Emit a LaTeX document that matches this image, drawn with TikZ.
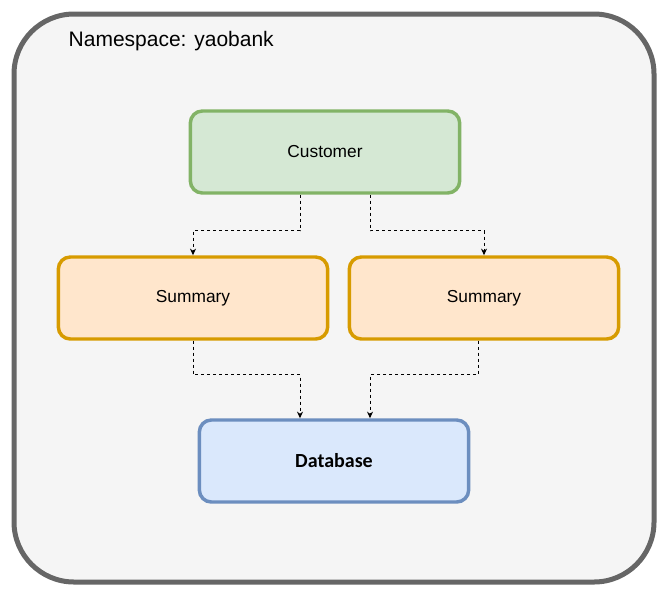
\documentclass[tikz,border=0pt]{standalone}
\usepackage{fontspec}
\setmainfont{Liberation Sans}
\newfontfamily\dbfont{Carlito}
\usetikzlibrary{positioning,calc,arrows.meta}
\tikzset{
	nsbox/.style={draw=black!60, fill=black!4, line width=3.75pt, rounded corners=45pt},
	svcbox/.style={rounded corners=9pt, line width=2.6pt, minimum width=202pt, minimum height=61.5pt, font=\fontsize{13}{15}\selectfont},
	custbox/.style={svcbox, draw={rgb,255:red,130;green,179;blue,102}, fill={rgb,255:red,213;green,232;blue,212}},
	sumbox/.style={svcbox, draw={rgb,255:red,215;green,155;blue,0}, fill={rgb,255:red,255;green,230;blue,204}},
	dbbox/.style={svcbox, draw={rgb,255:red,108;green,142;blue,191}, fill={rgb,255:red,218;green,232;blue,252}, font=\dbfont\bfseries\fontsize{15}{17}\selectfont},
	flow/.style={draw=black, line width=0.75pt, dash pattern=on 2.25pt off 2.25pt, -{Stealth[length=5pt,width=4.5pt]}}
}
\begin{document}
\begin{tikzpicture}[x=0.75pt,y=-0.75pt]
		\useasboundingbox (0,0) rectangle (666,596);
		\draw[nsbox] (14,14) rectangle (654,582);
		\node[anchor=west, font=\fontsize{15.75}{18}\selectfont] (ns) at (64,41) {Namespace: yaobank};
		\node[custbox] (cust) at (325,152) {Customer};
		\node[sumbox] (sumL) at (193,298) {Summary};
		\node[sumbox] (sumR) at (484,298) {Summary};
		\node[dbbox] (db) at (334,461) {Database};
		\draw[flow] ($(cust.south)+(-25,0)$) -- ++(0,36) -| (sumL.north);
		\draw[flow] ($(cust.south)+(45,0)$) -- ++(0,36) -| (sumR.north);
		\draw[flow] (sumL.south) -- ++(0,34) -| ($(db.north)+(-34,0)$);
		\draw[flow] ($(sumR.south)+(-6,0)$) -- ++(0,34) -| ($(db.north)+(36,0)$);
\end{tikzpicture}
\end{document}
